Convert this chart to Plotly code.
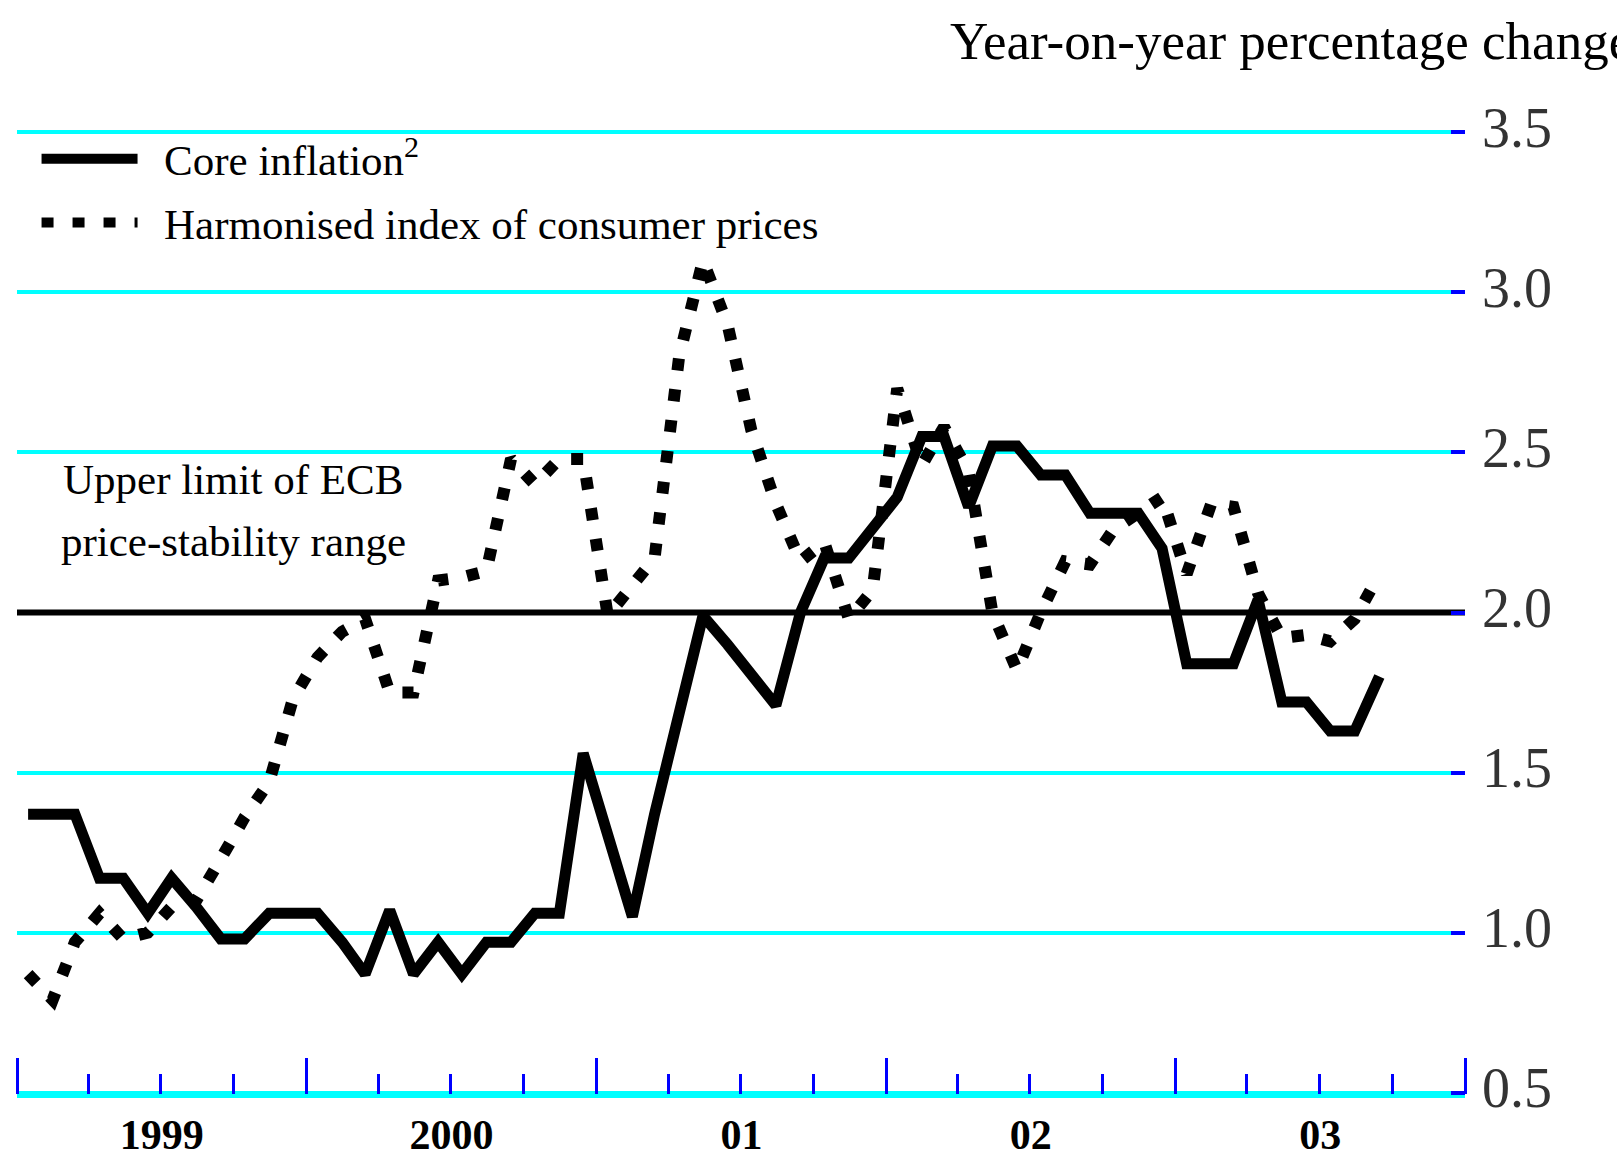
import pandas as pd
import plotly.graph_objects as go

# ---- data (year-on-year % change, monthly, Jan 1999 - Sep 2003) ----
months = pd.date_range("1999-01-01", "2003-09-01", freq="MS") + pd.Timedelta(days=14)

core_inflation = [
    1.37, 1.37, 1.37, 1.17, 1.17, 1.06, 1.17, 1.08, 0.98, 0.98, 1.06, 1.06,   # 1999
    1.06, 0.97, 0.87, 1.07, 0.87, 0.97, 0.87, 0.97, 0.97, 1.06, 1.06, 1.56,   # 2000
    1.30, 1.05, 1.37, 1.68, 1.99, 1.90, 1.80, 1.71, 2.00, 2.17, 2.17, 2.26,   # 2001
    2.36, 2.55, 2.55, 2.33, 2.52, 2.52, 2.43, 2.43, 2.31, 2.31, 2.31, 2.20,   # 2002
    1.84, 1.84, 1.84, 2.04, 1.72, 1.72, 1.63, 1.63, 1.80,                     # 2003
]
hicp = [
    0.87, 0.79, 0.97, 1.06, 0.98, 1.00, 1.08, 1.10, 1.23, 1.36, 1.47, 1.73,   # 1999
    1.86, 1.94, 1.98, 1.75, 1.75, 2.10, 2.11, 2.13, 2.48, 2.40, 2.48, 2.48,   # 2000
    1.99, 2.09, 2.17, 2.80, 3.10, 2.90, 2.57, 2.34, 2.16, 2.22, 1.98, 2.07,   # 2001
    2.70, 2.46, 2.58, 2.44, 2.00, 1.82, 2.00, 2.16, 2.15, 2.26, 2.31, 2.36,   # 2002
    2.12, 2.34, 2.33, 2.06, 1.92, 1.93, 1.91, 1.98, 2.12,                     # 2003
]
ecb_limit_x = ["1999-01-01", "2004-01-01"]
ecb_limit_y = [2.0, 2.0]

y_ticks = [0.5, 1.0, 1.5, 2.0, 2.5, 3.0, 3.5]
y_ticktext = ["0.5", "1.0", "1.5", "2.0", "2.5", "3.0", "3.5"]
year_alias = {"2001": "01", "2002": "02", "2003": "03"}

FONT = "Liberation Serif, Times New Roman, serif"
CYAN = "#00FFFF"
BLUE = "#0000FF"
NBSP = "\u00a0"

fig = go.Figure()

fig.add_trace(go.Scatter(
    x=ecb_limit_x, y=ecb_limit_y, mode="lines",
    line=dict(color="black", width=6), showlegend=False, hoverinfo="skip",
))
fig.add_trace(go.Scatter(
    x=months, y=core_inflation, mode="lines", legendgroup="core",
    name=NBSP * 2 + "Core inflation<sup>2</sup>",
    line=dict(color="black", width=11),
))
fig.add_trace(go.Scatter(
    x=months, y=hicp, mode="lines", legendgroup="hicp",
    name=NBSP * 2 + "Harmonised index of consumer prices",
    line=dict(color="black", width=12, dash="12px,19px"),
))

fig.update_layout(
    width=1617, height=1160,
    margin=dict(l=17, r=152, t=131, b=66),
    paper_bgcolor="white", plot_bgcolor="white",
    font=dict(family=FONT, color="black"),
    showlegend=True,
    legend=dict(
        x=0.0135, y=1.007, xanchor="left", yanchor="top",
        bgcolor="rgba(0,0,0,0)", font=dict(family=FONT, size=43, color="black"),
        itemwidth=96, tracegroupgap=5,
    ),
    xaxis=dict(
        type="date", range=["1999-01-01", "2004-01-01"], automargin=False,
        tick0="1999-01-01", dtick="M12", tickformat="%Y",
        ticklabelmode="period", labelalias=year_alias,
        ticks="inside", ticklen=36, tickwidth=3, tickcolor=BLUE,
        minor=dict(dtick="M3", ticks="inside", ticklen=20, tickwidth=3,
                   tickcolor=BLUE, showgrid=False),
        showgrid=False, zeroline=False,
        showline=True, linecolor=CYAN, linewidth=4,
        tickfont=dict(family=FONT, size=42, color="black", weight="bold"),
        ticklabelstandoff=1,
    ),
    yaxis=dict(
        side="right", range=[0.4955, 3.5045], automargin=False,
        tickmode="array", tickvals=y_ticks, ticktext=y_ticktext,
        ticks="inside", ticklen=14, tickwidth=4, tickcolor=BLUE,
        showgrid=True, gridcolor=CYAN, gridwidth=4,
        zeroline=False, showline=False,
        tickfont=dict(family=FONT, size=56, color="#333333"),
        ticklabelstandoff=16, ticklabelshift=-5,
    ),
    annotations=[
        dict(text="Year-on-year percentage change", xref="paper", yref="paper",
             x=0.643, y=1.093, xanchor="left", yanchor="middle", showarrow=False,
             font=dict(family=FONT, size=53, color="black")),
        dict(text="Upper limit of ECB", xref="x", yref="y",
             x="1999-10-01", y=2.415, xanchor="center", yanchor="middle", showarrow=False,
             font=dict(family=FONT, size=43, color="black")),
        dict(text="price-stability range", xref="x", yref="y",
             x="1999-10-01", y=2.222, xanchor="center", yanchor="middle", showarrow=False,
             font=dict(family=FONT, size=43, color="black")),
    ],
)

fig.write_html("out.html", config={"displayModeBar": False},
               post_script="document.body.style.margin='0';")
